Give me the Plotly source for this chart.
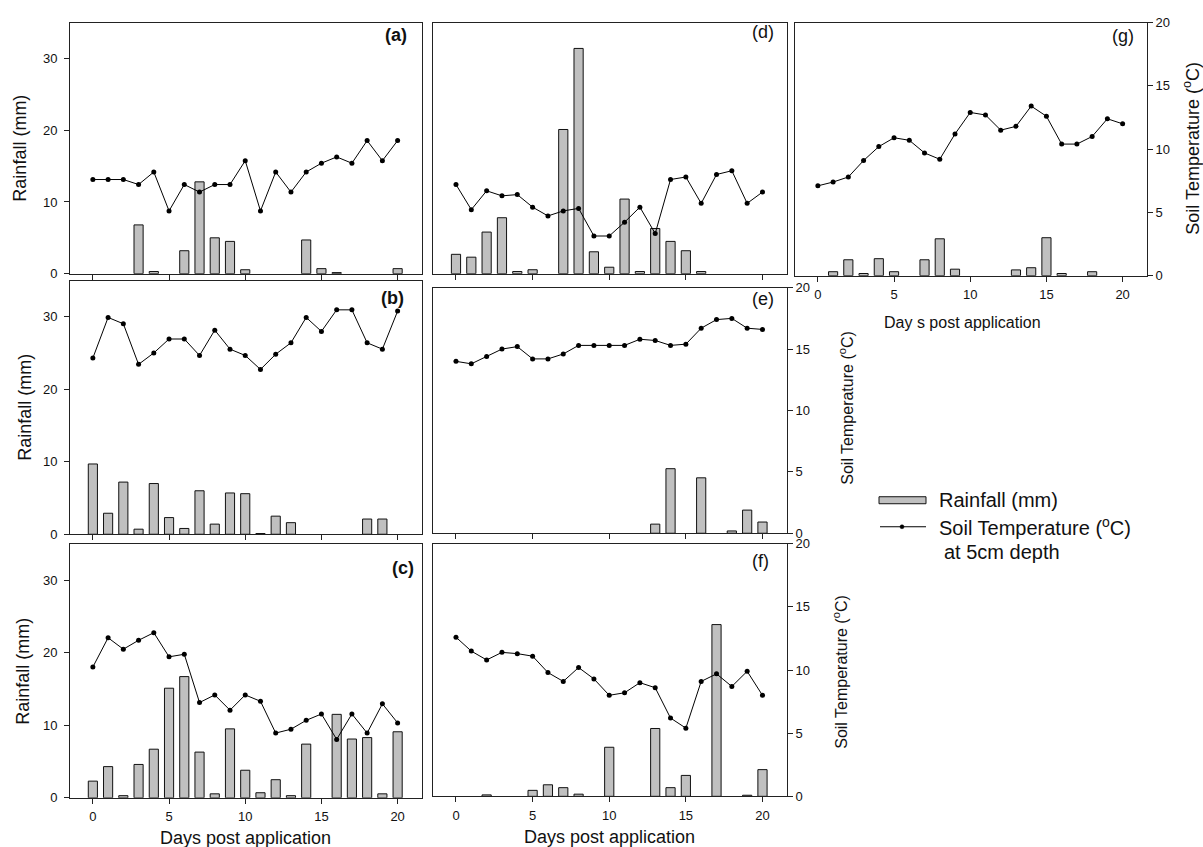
import plotly.graph_objects as go

W, H = 1203, 847
FONT = "Liberation Sans, Arial, sans-serif"

days = list(range(21))
x_tickvals = [0, 5, 10, 15, 20]
rain_tickvals = [0, 10, 20, 30]
temp_tickvals = [0, 5, 10, 15, 20]

# ---- data ----
rain_a = [0, 0, 0, 6.8, 0.3, 0, 3.2, 12.8, 5.0, 4.5, 0.55, 0, 0, 0, 4.7, 0.7, 0.15, 0, 0, 0, 0.7]
temp_a = [7.5, 7.5, 7.5, 7.1, 8.1, 5.0, 7.1, 6.5, 7.1, 7.1, 9.0, 5.0, 8.1, 6.5, 8.1, 8.8, 9.3, 8.8, 10.6, 9.0, 10.6]

rain_b = [9.7, 2.9, 7.2, 0.7, 7.0, 2.3, 0.8, 6.0, 1.4, 5.7, 5.6, 0.1, 2.5, 1.6, 0, 0, 0, 0, 2.1, 2.1, 0]
temp_b = [13.9, 17.1, 16.6, 13.4, 14.3, 15.4, 15.4, 14.1, 16.1, 14.6, 14.1, 13.0, 14.2, 15.1, 17.1, 16.0, 17.7, 17.7, 15.1, 14.6, 17.6]

rain_c = [2.3, 4.3, 0.3, 4.6, 6.7, 15.1, 16.7, 6.3, 0.55, 9.5, 3.8, 0.7, 2.5, 0.3, 7.4, 0, 11.5, 8.1, 8.3, 0.55, 9.1]
temp_c = [10.3, 12.6, 11.7, 12.4, 13.0, 11.1, 11.3, 7.5, 8.1, 6.9, 8.1, 7.6, 5.1, 5.4, 6.1, 6.6, 4.6, 6.6, 5.1, 7.4, 5.9]

rain_d = [2.7, 2.3, 5.8, 7.8, 0.3, 0.55, 0, 20.1, 31.4, 3.05, 0.9, 10.4, 0.3, 6.3, 4.5, 3.2, 0.3, 0, 0, 0, 0]
temp_d = [7.1, 5.1, 6.6, 6.2, 6.3, 5.3, 4.6, 5.0, 5.2, 3.0, 3.0, 4.1, 5.3, 3.2, 7.5, 7.7, 5.6, 7.9, 8.2, 5.6, 6.5]

rain_e = [0, 0, 0, 0, 0, 0, 0, 0, 0, 0, 0, 0, 0, 1.3, 9.2, 0, 7.9, 0, 0.33, 3.3, 1.6]
temp_e = [14.0, 13.8, 14.4, 15.0, 15.2, 14.2, 14.2, 14.6, 15.3, 15.3, 15.3, 15.3, 15.8, 15.7, 15.3, 15.4, 16.7, 17.4, 17.5, 16.7, 16.6]

rain_f = [0, 0, 0.2, 0, 0, 0.83, 1.6, 1.2, 0.3, 0, 6.8, 0, 0, 9.4, 1.2, 2.9, 0, 23.8, 0, 0.15, 3.7]
temp_f = [12.6, 11.5, 10.8, 11.4, 11.3, 11.1, 9.8, 9.1, 10.2, 9.3, 8.0, 8.2, 9.0, 8.6, 6.2, 5.4, 9.1, 9.7, 8.7, 9.9, 8.0]

rain_g = [0, 0.55, 2.2, 0.3, 2.35, 0.55, 0, 2.2, 5.1, 0.9, 0, 0, 0, 0.8, 1.1, 5.25, 0.3, 0, 0.55, 0, 0]
temp_g = [7.1, 7.4, 7.8, 9.1, 10.2, 10.9, 10.7, 9.7, 9.2, 11.2, 12.9, 12.7, 11.5, 11.8, 13.4, 12.6, 10.4, 10.4, 11.0, 12.4, 12.0]

panel_labels = ["(a)", "(b)", "(c)", "(d)", "(e)", "(f)", "(g)"]
rain_title = "Rainfall (mm)"
temp_title = "Soil Temperature (<sup>o</sup>C)"
x_title = "Days post application"
x_title_g = "Day s post application"

# ---- layout in pixels (target picture pixels; vertical mapping calibrated) ----
Y_OFF, Y_SCALE = 6.4, 0.982

def px(x):
    return x / W

def py(y):
    return 1 - ((y - Y_OFF) / Y_SCALE) / H

panels = [
    # name, rain, temp, (x0,x1), (ytop,ybot), left axis, right axis, x labels, label pos (xr, yc), bold
    ("a", rain_a, temp_a, (70, 422), (22, 273), True, False, False, (409, 34), True),
    ("b", rain_b, temp_b, (70, 422), (280, 533.5), True, False, False, (406, 297), True),
    ("c", rain_c, temp_c, (70, 422), (543, 797), True, False, True, (416, 567), True),
    ("d", rain_d, temp_d, (433, 787), (22, 273), False, False, False, (776, 31), False),
    ("e", rain_e, temp_e, (433, 787), (287, 532.5), False, True, False, (776, 298), False),
    ("f", rain_f, temp_f, (433, 787), (543, 795.5), False, True, True, (771, 560), False),
    ("g", rain_g, temp_g, (795, 1147), (22, 275), False, True, True, (1136, 35), False),
]

fig = go.Figure()
layout = {}
annotations = []

for i, (name, rain, temp, (x0, x1), (yt, yb), left, right, xlab, lpos, bold) in enumerate(panels):
    n = i + 1
    xa = "x" if n == 1 else f"x{n}"
    yl_i = 2 * n - 1
    yr_i = 2 * n
    yl = "y" if yl_i == 1 else f"y{yl_i}"
    yr = f"y{yr_i}"
    xkey = "xaxis" if n == 1 else f"xaxis{n}"
    ylkey = "yaxis" if yl_i == 1 else f"yaxis{yl_i}"
    yrkey = f"yaxis{yr_i}"

    # days without rain get no bar at all
    bar_y = [v if v > 0 else None for v in rain]
    fig.add_trace(go.Bar(x=days, y=bar_y, xaxis=xa, yaxis=yl, width=0.6,
                         marker=dict(color="#c0c0c0", line=dict(color="#111", width=1)),
                         showlegend=False))
    fig.add_trace(go.Scatter(x=days, y=temp, xaxis=xa, yaxis=yr, mode="lines+markers",
                             line=dict(color="#000", width=1),
                             marker=dict(color="#000", size=5, symbol="circle"),
                             showlegend=False))

    layout[xkey] = dict(domain=[px(x0), px(x1)], anchor=yl, range=[-1.5, 21.6],
                        tickvals=x_tickvals, ticks="outside", ticklen=5, tickwidth=1,
                        tickcolor="#222", showticklabels=xlab, showgrid=False, zeroline=False,
                        showline=True, mirror=True, linecolor="#222", linewidth=1,
                        ticklabelstandoff=2,
                        tickfont=dict(family=FONT, size=13, color="#111"))
    layout[ylkey] = dict(domain=[py(yb), py(yt)], anchor=xa, range=[0, 35],
                         tickvals=rain_tickvals, ticks="outside" if left else "",
                         ticklen=5, tickcolor="#222", showticklabels=left,
                         showgrid=False, zeroline=False, showline=True, mirror=True,
                         linecolor="#222", linewidth=1, ticklabelstandoff=4,
                         tickfont=dict(family=FONT, size=13, color="#111"))
    layout[yrkey] = dict(overlaying=yl, side="right", anchor=xa, range=[0, 20],
                         tickvals=temp_tickvals, ticks="outside" if right else "",
                         ticklen=5, tickcolor="#222", showticklabels=right,
                         showgrid=False, zeroline=False, showline=right,
                         linecolor="#222", linewidth=1, visible=right,
                         tickfont=dict(family=FONT, size=13, color="#111"))

    label = panel_labels[i]
    annotations.append(dict(x=px(lpos[0]), y=py(lpos[1]), xref="paper", yref="paper",
                            xanchor="right", yanchor="middle", showarrow=False,
                            text=f"<b>{label}</b>" if bold else label,
                            font=dict(family=FONT, size=18, color="#111")))

# axis titles
for (xc, yc) in [(20, 148), (25, 407), (23, 671)]:
    annotations.append(dict(x=px(xc), y=py(yc), xref="paper", yref="paper", text=rain_title,
                            textangle=-90, showarrow=False, xanchor="center", yanchor="middle",
                            font=dict(family=FONT, size=18, color="#111")))
for (xc, yc, fs) in [(846, 407, 16), (840, 671, 16), (1192, 148, 18)]:
    annotations.append(dict(x=px(xc), y=py(yc), xref="paper", yref="paper", text=temp_title,
                            textangle=-90, showarrow=False, xanchor="center", yanchor="middle",
                            font=dict(family=FONT, size=fs, color="#111")))
for (xc, yc, txt, fs) in [(245, 837, x_title, 18), (609, 836, x_title, 18), (962, 322, x_title_g, 16)]:
    annotations.append(dict(x=px(xc), y=py(yc), xref="paper", yref="paper", text=txt,
                            showarrow=False, xanchor="center", yanchor="middle",
                            font=dict(family=FONT, size=fs, color="#111")))

# legend (drawn manually)
shapes = [
    dict(type="rect", xref="paper", yref="paper", x0=px(879), x1=px(926), y0=py(503), y1=py(496),
         fillcolor="#c0c0c0", line=dict(color="#111", width=1)),
    dict(type="line", xref="paper", yref="paper", x0=px(880), x1=px(926), y0=py(526), y1=py(526),
         line=dict(color="#000", width=1)),
    dict(type="circle", xref="paper", yref="paper", x0=px(900), x1=px(904), y0=py(528), y1=py(524),
         fillcolor="#000", line=dict(color="#000", width=0.5)),
]
annotations.append(dict(x=px(937), y=py(499), xref="paper", yref="paper", text="Rainfall (mm)",
                        showarrow=False, xanchor="left", yanchor="middle",
                        font=dict(family=FONT, size=20, color="#111")))
annotations.append(dict(x=px(937), y=py(526), xref="paper", yref="paper", text="Soil Temperature (<sup>o</sup>C)",
                        showarrow=False, xanchor="left", yanchor="middle",
                        font=dict(family=FONT, size=20, color="#111")))
annotations.append(dict(x=px(942), y=py(551), xref="paper", yref="paper", text="at 5cm depth",
                        showarrow=False, xanchor="left", yanchor="middle",
                        font=dict(family=FONT, size=20, color="#111")))

fig.update_layout(width=W, height=H, margin=dict(l=0, r=0, t=0, b=0),
                  paper_bgcolor="white", plot_bgcolor="white", barmode="overlay",
                  showlegend=False, annotations=annotations, shapes=shapes,
                  font=dict(family=FONT, color="#111"), **layout)

post = (
    "document.documentElement.style.margin='0';"
    "document.documentElement.style.padding='0';"
    "document.documentElement.style.overflow='hidden';"
    "document.body.style.margin='0';"
    "document.body.style.padding='0';"
    "document.body.style.overflow='hidden';"
    "var gd=document.getElementsByClassName('plotly-graph-div')[0];"
    "gd.style.position='absolute';gd.style.left='0px';gd.style.top='0px';"
)

fig.write_html("out.html", config={"displayModeBar": False}, post_script=post)
